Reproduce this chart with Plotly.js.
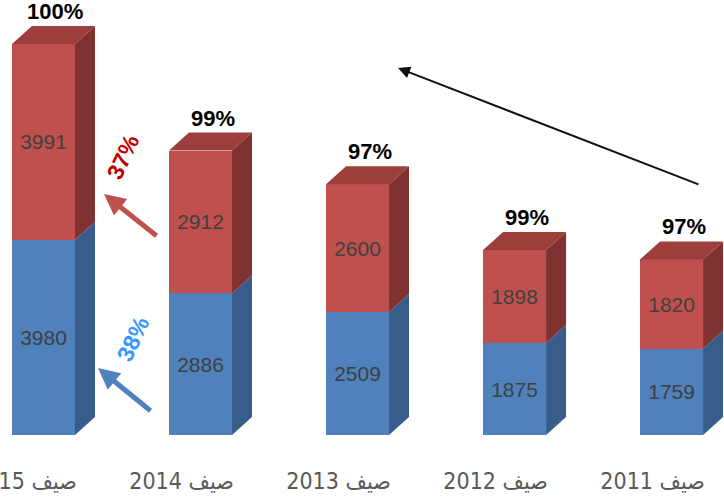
<!DOCTYPE html>
<html>
<head>
<meta charset="utf-8">
<script src="https://cdn.plot.ly/plotly-3.0.1.min.js"></script>
<style>html,body{margin:0;padding:0;background:#fff;}#chart{width:724px;height:497px;}</style>
</head>
<body>
<div id="chart"></div>
<script>
// Data (chronological order)
var seasons = ["صيف 2011", "صيف 2012", "صيف 2013", "صيف 2014", "صيف 2015"];
var blueValues = [1759, 1875, 2509, 2886, 3980];
var redValues = [1820, 1898, 2600, 2912, 3991];
var pctLabels = ["97%", "99%", "97%", "99%", "100%"];
var blueGrowth = "38%";
var redGrowth = "37%";

// Layout geometry
var W = 724, H = 497, mB = 62;
var plotH = H - mB;
var xRange = [4.277, -0.334];
var yRange = [0, 8867];
var pxPerX = W / Math.abs(xRange[1] - xRange[0]);
var pxPerY = plotH / (yRange[1] - yRange[0]);
var barW = 63 / pxPerX;
var depthX = 20 / pxPerX;   // to the right on screen (axis reversed => subtract)
var depthY = 18 / pxPerY;

var xs = seasons.map(function (_, i) { return i; });
var totals = blueValues.map(function (b, i) { return b + redValues[i]; });

var cBlue = "#4F81BD", cBlueSide = "#385D8A";
var cRed = "#C0504D", cRedSide = "#7F3230", cRedTop = "#9B3E3C";

var shapes = [];
function poly(pts, color) {
  var d = pts.map(function (p, k) { return (k ? "L" : "M") + p[0] + "," + p[1]; }).join(" ") + " Z";
  shapes.push({type: "path", xref: "x", yref: "y", path: d, fillcolor: color, line: {width: 0}, layer: "above"});
}
xs.forEach(function (x, i) {
  var L = x + barW / 2, R = x - barW / 2;
  var b = blueValues[i], t = totals[i];
  poly([[R, 0], [R - depthX, depthY], [R - depthX, b + depthY], [R, b]], cBlueSide);
  poly([[R, b], [R - depthX, b + depthY], [R - depthX, t + depthY], [R, t]], cRedSide);
  poly([[L, t], [R, t], [R - depthX, t + depthY], [L - depthX, t + depthY]], cRedTop);
});

var insideFont = {family: "Liberation Sans, Arial, sans-serif", size: 21, color: "#404040"};
var traces = [
  {type: "bar", x: xs, y: blueValues, width: barW, marker: {color: cBlue, line: {width: 0}},
   text: blueValues.map(String), textposition: "inside", insidetextanchor: "middle",
   textangle: 0, constraintext: "none", insidetextfont: insideFont, hoverinfo: "none"},
  {type: "bar", x: xs, y: redValues, width: barW, marker: {color: cRed, line: {width: 0}},
   text: redValues.map(String), textposition: "inside", insidetextanchor: "middle",
   textangle: 0, constraintext: "none", insidetextfont: insideFont, hoverinfo: "none"}
];

var annotations = xs.map(function (x, i) {
  return {x: x, y: totals[i], xref: "x", yref: "y", text: pctLabels[i], showarrow: false,
    xshift: 12, yshift: 18, yanchor: "bottom", xanchor: "center",
    font: {family: "Liberation Sans, Arial, sans-serif", size: 22, color: "#000", weight: "bold"}};
});
// Trend arrow
annotations.push({xref: "paper", yref: "paper", x: 398 / W, y: (plotH - 68) / plotH, ax: 302, ay: 117,
  showarrow: true, arrowhead: 2, arrowsize: 1.2, arrowwidth: 2, arrowcolor: "#111", text: ""});
// Growth arrows
annotations.push({xref: "paper", yref: "paper", x: 104 / W, y: (plotH - 194) / plotH, ax: 54, ay: 43,
  showarrow: true, arrowhead: 2, arrowsize: 0.85, arrowwidth: 5, arrowcolor: cRed, text: ""});
annotations.push({xref: "paper", yref: "paper", x: 98 / W, y: (plotH - 368) / plotH, ax: 54, ay: 44,
  showarrow: true, arrowhead: 2, arrowsize: 0.85, arrowwidth: 5, arrowcolor: cBlue, text: ""});
annotations.push({xref: "paper", yref: "paper", x: 123 / W, y: (plotH - 157) / plotH, showarrow: false,
  xanchor: "center", yanchor: "middle",
  text: redGrowth, textangle: -65, font: {family: "Liberation Sans, Arial, sans-serif", size: 23, color: "#C00000", weight: "bold"}});
annotations.push({xref: "paper", yref: "paper", x: 133 / W, y: (plotH - 339) / plotH, showarrow: false,
  xanchor: "center", yanchor: "middle",
  text: blueGrowth, textangle: -65, font: {family: "Liberation Sans, Arial, sans-serif", size: 23, color: "#3399FF", weight: "bold"}});

var layout = {
  width: W, height: H,
  margin: {l: 0, r: 0, t: 0, b: mB, pad: 0},
  paper_bgcolor: "#fff", plot_bgcolor: "#fff",
  barmode: "stack", showlegend: false,
  xaxis: {range: xRange, tickvals: xs, ticktext: seasons, showgrid: false, zeroline: false,
    showline: false, ticks: "", ticklabelshift: 19, ticklabelstandoff: 30, ticklabeloverflow: "allow",
    tickfont: {family: "Liberation Sans Narrow, Arial Narrow, DejaVu Sans Condensed, sans-serif", size: 23, color: "#595959"}},
  yaxis: {range: yRange, visible: false, showgrid: false, zeroline: false},
  shapes: shapes,
  annotations: annotations
};

Plotly.newPlot("chart", traces, layout, {displayModeBar: false, staticPlot: true});
</script>
</body>
</html>
